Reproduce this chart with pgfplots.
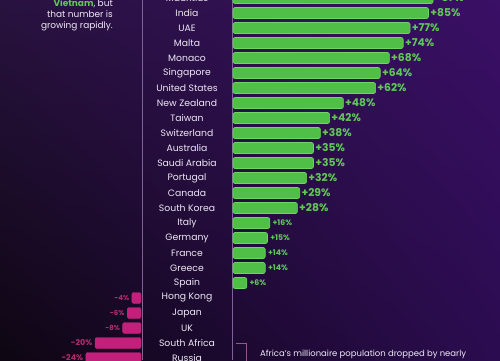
\documentclass[border=0pt]{standalone}
\usepackage{fontspec}
\setmainfont{Poppins}
\usepackage{pgfplots}
\pgfplotsset{compat=1.18}
\usetikzlibrary{shadings}
\definecolor{barg}{HTML}{50BF47}
\definecolor{barglt}{HTML}{6ED463}
\definecolor{txtg}{HTML}{60C757}
\definecolor{barp}{HTML}{C2207A}
\definecolor{txtp}{HTML}{B02D6F}
\definecolor{sepline}{HTML}{7E6298}
\definecolor{bgul}{HTML}{28123F}
\definecolor{bgur}{HTML}{3A0F66}
\definecolor{bgll}{HTML}{0E0612}
\definecolor{bglr}{HTML}{2B0C50}
\definecolor{lbl}{HTML}{EEE8F4}
\definecolor{brk}{HTML}{8C5A82}
\pgfplotsset{
  basebar/.style={scale only axis, y dir=reverse, ymin=-1, ymax=24.1333, height=377bp,
    xbar, bar width=11bp, bar shift=0pt, hide x axis, clip=false,
    y axis line style={draw=none}, major tick length=0pt,
    /pgf/number format/assume math mode=true,
    nodes near coords align=horizontal},
}
\begin{document}
\begin{tikzpicture}[x=1bp,y=1bp]
\useasboundingbox (0,0) rectangle (500,360);
\clip (0,0) rectangle (500,360);
\shade[upper left=bgul, upper right=bgur, lower left=bgll, lower right=bglr] (0,0) rectangle (500,360);
\draw[sepline, line width=0.8bp] (142.5,0) -- (142.5,360);
\draw[sepline, line width=0.8bp] (232.7,0) -- (232.7,360);
% right axis: growth
\begin{axis}[basebar, at={(233bp,0bp)}, anchor=south west, width=267bp,
  xmin=0, xmax=116.09,
  ytick={0,...,24},
  yticklabels={Mauritius,India,UAE,Malta,Monaco,Singapore,United States,New Zealand,Taiwan,Switzerland,Australia,Saudi Arabia,Portugal,Canada,South Korea,Italy,Germany,France,Greece,Spain,Hong Kong,Japan,UK,South Africa,Russia},
  yticklabel style={anchor=center, xshift=-46bp, text=lbl, font=\fontsize{9.3}{11}\selectfont},
]
\addplot[fill=barg, draw=barglt, line width=0.6bp, rounded corners=2bp,
  nodes near coords={+\pgfmathprintnumber{\pgfplotspointmeta}\%},
  nodes near coords style={font=\fontsize{10.8}{12}\selectfont\bfseries, text=txtg, inner sep=1.5bp}]
 coordinates {(87,0) (85,1) (77,2) (74,3) (68,4) (64,5) (62,6) (48,7) (42,8) (38,9) (35,10) (35,11) (32,12) (29,13) (28,14)};
\addplot[fill=barg, draw=barglt, line width=0.6bp, rounded corners=2bp,
  nodes near coords={+\pgfmathprintnumber{\pgfplotspointmeta}\%},
  nodes near coords style={font=\fontsize{7.8}{9}\selectfont\bfseries, text=txtg, inner sep=2.5bp}]
 coordinates {(16,15) (15,16) (14,17) (14,18) (6,19)};
\end{axis}
% left axis: decline
\begin{axis}[basebar, at={(0bp,0bp)}, anchor=south west, width=141bp,
  xmin=-61.304, xmax=0, hide y axis]
\addplot[fill=barp, draw=barp, line width=0.4bp, rounded corners=2bp,
  nodes near coords={\pgfmathprintnumber{\pgfplotspointmeta}\%},
  nodes near coords style={font=\fontsize{7}{9}\selectfont\bfseries, text=txtp, inner sep=2.5bp}]
 coordinates {(-4,20) (-6,21) (-8,22)};
\addplot[fill=barp, draw=barp, line width=0.4bp, rounded corners=2bp,
  nodes near coords={\pgfmathprintnumber{\pgfplotspointmeta}\%},
  nodes near coords style={font=\fontsize{8}{10}\selectfont\bfseries, text=txtp, inner sep=2.5bp}]
 coordinates {(-20,23) (-24,24)};
\end{axis}
% left annotation text (cropped paragraph)
\node[anchor=base east, inner sep=0pt, text=lbl, font=\fontsize{9}{11}\selectfont] at (113,354) {{\color{txtg}\bfseries Vietnam}, but};
\node[anchor=base east, inner sep=0pt, text=lbl, font=\fontsize{9}{11}\selectfont] at (113,343) {that number is};
\node[anchor=base east, inner sep=0pt, text=lbl, font=\fontsize{9}{11}\selectfont] at (113,332) {growing rapidly.};
% bottom annotation
\draw[brk, line width=0.6bp] (236,17) -- (246,17) -- (246,-2);
\node[anchor=base west, inner sep=0pt, text=lbl, font=\fontsize{8.5}{10}\selectfont] at (260,4) {Africa’s millionaire population dropped by nearly};
\end{tikzpicture}
\end{document}
